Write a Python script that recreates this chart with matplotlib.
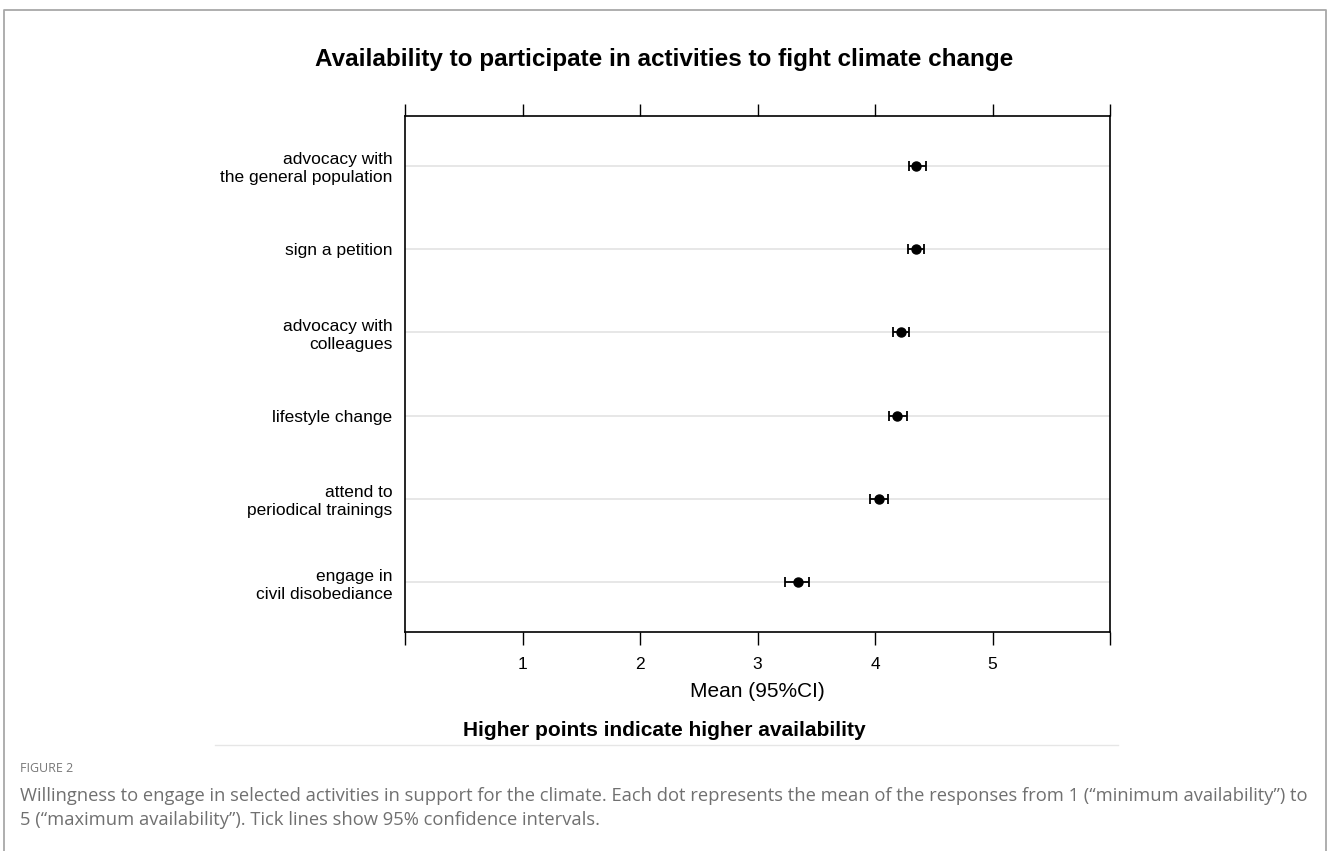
import matplotlib
matplotlib.use("Agg")
import matplotlib.pyplot as plt
from matplotlib.lines import Line2D

plt.rcParams['font.family'] = ['Liberation Sans', 'DejaVu Sans']

activities = ["advocacy with\nthe general population", "sign a petition",
              "advocacy with\ncolleagues", "lifestyle change",
              "attend to\nperiodical trainings", "engage in\ncivil disobediance"]
means = [4.35, 4.35, 4.22, 4.19, 4.03, 3.34]
ci_low = [4.29, 4.28, 4.15, 4.12, 3.96, 3.23]
ci_high = [4.43, 4.42, 4.29, 4.27, 4.11, 3.44]
xticks = [0, 1, 2, 3, 4, 5, 6]
xticklabels = ["", "1", "2", "3", "4", "5", ""]

fig = plt.figure(figsize=(13.28, 8.51), dpi=100)
ax = fig.add_axes([0.305, 0.2573, 0.5309, 0.6064])

ypos = list(range(1, len(activities) + 1))
for y in ypos:
    ax.axhline(y, color="#e3e3e3", lw=1.2, zorder=0)
err = [[m - lo for m, lo in zip(means, ci_low)], [hi - m for m, hi in zip(means, ci_high)]]
ax.errorbar(means, ypos, xerr=err, fmt="o", color="black", ms=6.5,
            ecolor="black", elinewidth=1.3, capsize=3.5, capthick=1.3, zorder=3)

ax.set_xlim(0, 6)
ax.set_ylim(len(activities) + 0.6, 0.4)
ax.set_yticks(ypos)
ax.set_yticklabels(activities, fontsize=12.5, ha="right", multialignment="right",
                   linespacing=1.25)
ax.tick_params(axis="y", length=0, pad=9)
ax.set_xticks(xticks)
ax.set_xticklabels(xticklabels, fontsize=12.5)
ax.tick_params(axis="x", top=True, bottom=True, direction="out", length=9,
               width=1, pad=9)
for s in ax.spines.values():
    s.set_linewidth(1.2)
ax.set_xlabel("Mean (95%CI)", fontsize=15, labelpad=7)

fig.text(0.5, 0.930, "Availability to participate in activities to fight climate change",
         ha="center", va="center", fontsize=17.5, fontweight="bold")
fig.text(0.5, 1 - 731 / 851, "Higher points indicate higher availability",
         ha="center", va="center", fontsize=15, fontweight="bold")
fig.add_artist(Line2D([215 / 1328, 1118 / 1328], [1 - 745 / 851] * 2,
                      color="#e6e6e6", lw=1))

# outer frame of the figure panel
fig.add_artist(Line2D([4 / 1328, 4 / 1328, 1326 / 1328, 1326 / 1328],
                      [0, 1 - 10 / 851, 1 - 10 / 851, 0], color="#a8a8a8", lw=1.3))

cap = ['Open Sans', 'DejaVu Sans']
fig.text(20 / 1328, 1 - 768 / 851, "FIGURE 2", fontsize=9, color="#777777",
         va="center", family=cap)
fig.text(20 / 1328, 1 - 808 / 851,
         "Willingness to engage in selected activities in support for the climate. "
         "Each dot represents the mean of the responses from 1 (\u201cminimum availability\u201d) to\n"
         "5 (\u201cmaximum availability\u201d). Tick lines show 95% confidence intervals.",
         fontsize=13.2, color="#707070", va="center", linespacing=1.45, family=cap)

fig.savefig("out.png", dpi=100, facecolor="white")
